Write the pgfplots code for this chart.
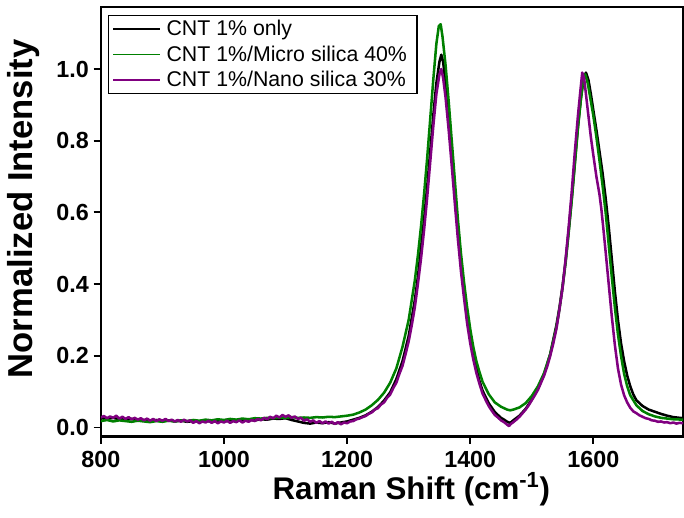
\documentclass[border=0pt]{standalone}
\usepackage{pgfplots}
\pgfplotsset{compat=1.18}
\usepackage{fontspec}
\setmainfont{Liberation Sans}
\definecolor{cgreen}{RGB}{0,128,0}
\definecolor{cmag}{RGB}{128,0,128}
\begin{document}
\begin{tikzpicture}
\begin{axis}[
  scale only axis,
  width=437.25pt, height=322.5pt,
  xmin=800, xmax=1746, ymin=-0.025, ymax=1.173,
  xtick={800,1000,1200,1400,1600},
  ytick={0,0.2,0.4,0.6,0.8,1.0},
  xtick pos=left, ytick pos=left,
  tick align=outside,
  major tick length=5.5pt,
  every tick/.style={line width=1.4pt, black},
  axis line style={line width=1.6pt},
  /pgf/number format/assume math mode=true,
  x tick label style={/pgf/number format/set thousands separator={}, font=\bfseries\fontsize{17.5}{17.5}\selectfont, yshift=-2pt},
  y tick label style={/pgf/number format/fixed, /pgf/number format/fixed zerofill, /pgf/number format/precision=1, font=\bfseries\fontsize{17.5}{17.5}\selectfont},
  xlabel={Raman Shift (cm\textsuperscript{-1})},
  ylabel={Normalized Intensity},
  every axis x label/.style={at={(axis description cs:0.533,-0.123)}, anchor=center, font=\bfseries\fontsize{23.5}{23.5}\selectfont},
  every axis y label/.style={at={(axis description cs:-0.132,0.53)}, anchor=center, rotate=90, font=\bfseries\fontsize{26}{26}\selectfont},
  legend style={at={(axis description cs:0.012,0.981)}, anchor=north west, draw=black, line width=1pt, font=\fontsize{16}{19.5}\selectfont, inner xsep=3pt, inner ysep=3.5pt, row sep=6pt, nodes={inner xsep=4.5pt, inner ysep=0pt}},
  legend cell align=left,
  legend image code/.code={\draw[#1, line width=1.1pt] (0pt,0pt) -- (35pt,0pt);},
  every axis plot/.append style={line width=1.9pt, line join=round},
]
\addplot[black, no markers] coordinates {
(800,.026)(810,.024)(820,.027)(830,.023)(840,.022)(850,.024)(860,.020)(870,.021)(880,.019)(890,.021)(900,.018)(910,.020)(920,.017)(930,.019)(940,.016)(950,.018)(960,.017)(970,.019)(980,.016)(990,.018)(1000,.019)(1010,.017)(1020,.020)(1030,.019)(1040,.021)(1050,.020)(1060,.023)(1070,.022)(1080,.025)(1090,.024)(1100,.026)(1110,.021)(1120,.017)(1130,.013)(1140,.011)(1150,.014)(1160,.012)(1170,.015)(1180,.011)(1190,.014)(1200,.017)(1210,.022)(1220,.027)(1230,.034)(1240,.044)(1250,.057)(1260,.075)(1270,.098)(1280,.135)(1290,.185)(1300,.255)(1310,.355)(1315,.42)(1320,.50)(1325,.58)(1330,.67)(1335,.77)(1340,.87)(1345,.96)(1350,1.02)(1353,1.04)(1356,1.02)(1360,.96)(1365,.87)(1370,.77)(1375,.66)(1380,.56)(1385,.465)(1390,.385)(1395,.315)(1400,.255)(1405,.205)(1410,.165)(1415,.13)(1420,.103)(1430,.068)(1440,.043)(1450,.027)(1455,.022)(1460,.016)(1465,.013)(1470,.02)(1480,.033)(1490,.052)(1500,.078)(1510,.108)(1520,.148)(1530,.205)(1540,.285)(1545,.335)(1550,.395)(1555,.465)(1560,.55)(1565,.64)(1570,.74)(1575,.84)(1580,.92)(1584,.97)(1588,.99)(1592,.97)(1596,.93)(1600,.885)(1605,.83)(1610,.77)(1615,.71)(1620,.64)(1625,.56)(1630,.47)(1635,.38)(1640,.30)(1645,.235)(1650,.185)(1655,.145)(1660,.115)(1665,.092)(1670,.076)(1680,.06)(1690,.05)(1700,.044)(1710,.038)(1720,.033)(1730,.029)(1746,.026)
};
\addlegendentry{CNT 1\% only}
\addplot[cgreen, no markers] coordinates {
(800,.018)(810,.021)(820,.017)(830,.020)(840,.018)(850,.016)(860,.019)(870,.017)(880,.015)(890,.018)(900,.016)(910,.019)(920,.017)(930,.020)(940,.018)(950,.021)(960,.019)(970,.022)(980,.020)(990,.023)(1000,.021)(1010,.024)(1020,.022)(1030,.025)(1040,.023)(1050,.026)(1060,.025)(1070,.027)(1080,.026)(1090,.028)(1100,.027)(1110,.029)(1120,.027)(1130,.028)(1140,.027)(1150,.029)(1160,.028)(1170,.030)(1180,.029)(1190,.031)(1200,.033)(1210,.036)(1220,.042)(1230,.05)(1240,.062)(1250,.077)(1260,.097)(1270,.125)(1280,.165)(1290,.225)(1300,.30)(1310,.41)(1315,.48)(1320,.56)(1325,.65)(1330,.75)(1335,.86)(1340,.97)(1345,1.07)(1349,1.12)(1352,1.125)(1355,1.09)(1360,1.01)(1365,.91)(1370,.80)(1375,.69)(1380,.58)(1385,.485)(1390,.405)(1395,.335)(1400,.275)(1405,.225)(1410,.185)(1415,.155)(1420,.128)(1430,.093)(1440,.07)(1450,.058)(1460,.05)(1465,.048)(1470,.05)(1480,.056)(1490,.068)(1500,.088)(1510,.115)(1520,.152)(1530,.205)(1540,.28)(1545,.33)(1550,.39)(1555,.46)(1560,.545)(1565,.635)(1570,.735)(1575,.835)(1580,.92)(1584,.975)(1587,.985)(1591,.96)(1595,.92)(1600,.87)(1605,.81)(1610,.745)(1615,.675)(1620,.60)(1625,.51)(1630,.42)(1635,.335)(1640,.26)(1645,.20)(1650,.15)(1655,.115)(1660,.09)(1670,.062)(1680,.046)(1690,.037)(1700,.031)(1710,.027)(1720,.025)(1730,.023)(1746,.022)
};
\addlegendentry{CNT 1\%/Micro silica 40\%}
\addplot[cmag, no markers] coordinates {
(800,.028)(805,.032)(810,.026)(815,.031)(820,.027)(825,.033)(830,.025)(835,.030)(840,.024)(845,.029)(850,.023)(855,.027)(860,.022)(865,.026)(870,.020)(875,.025)(880,.019)(885,.024)(890,.018)(895,.023)(900,.019)(905,.024)(910,.018)(915,.022)(920,.017)(925,.021)(930,.016)(935,.022)(940,.017)(945,.020)(950,.013)(955,.018)(960,.012)(965,.017)(970,.014)(975,.019)(980,.013)(985,.018)(990,.012)(995,.017)(1000,.014)(1005,.019)(1010,.013)(1015,.018)(1020,.015)(1025,.020)(1030,.014)(1035,.019)(1040,.016)(1045,.021)(1050,.018)(1055,.024)(1060,.020)(1065,.027)(1070,.023)(1075,.030)(1080,.026)(1085,.033)(1090,.028)(1095,.035)(1100,.030)(1105,.034)(1110,.027)(1115,.031)(1120,.024)(1125,.027)(1130,.019)(1135,.023)(1140,.016)(1145,.020)(1150,.013)(1155,.018)(1160,.012)(1165,.017)(1170,.011)(1175,.016)(1180,.010)(1185,.015)(1190,.009)(1195,.014)(1200,.012)(1205,.017)(1210,.018)(1215,.023)(1220,.025)(1225,.029)(1230,.032)(1235,.038)(1240,.042)(1245,.05)(1250,.054)(1255,.064)(1260,.07)(1265,.083)(1270,.092)(1275,.11)(1280,.125)(1285,.15)(1290,.172)(1295,.205)(1300,.24)(1305,.285)(1310,.335)(1315,.40)(1320,.47)(1325,.55)(1330,.64)(1335,.74)(1340,.84)(1345,.93)(1350,.985)(1353,1.0)(1356,.975)(1360,.92)(1365,.83)(1370,.73)(1375,.625)(1380,.525)(1385,.435)(1390,.36)(1395,.29)(1400,.235)(1405,.19)(1410,.152)(1415,.122)(1420,.095)(1425,.077)(1430,.06)(1435,.047)(1440,.035)(1445,.028)(1450,.02)(1455,.015)(1460,.008)(1463,.004)(1466,.01)(1470,.015)(1475,.022)(1480,.03)(1485,.04)(1490,.05)(1495,.062)(1500,.076)(1505,.09)(1510,.105)(1515,.125)(1520,.145)(1525,.17)(1530,.20)(1535,.235)(1540,.275)(1545,.33)(1550,.39)(1555,.47)(1560,.56)(1565,.66)(1570,.77)(1575,.87)(1579,.94)(1582,.99)(1585,.975)(1588,.93)(1592,.87)(1596,.81)(1600,.76)(1605,.70)(1610,.65)(1613,.61)(1616,.56)(1620,.49)(1625,.40)(1630,.31)(1635,.23)(1640,.165)(1645,.12)(1650,.09)(1655,.07)(1660,.055)(1665,.045)(1670,.04)(1675,.034)(1680,.03)(1685,.026)(1690,.024)(1695,.02)(1700,.019)(1705,.016)(1710,.017)(1715,.014)(1720,.015)(1725,.012)(1730,.014)(1735,.011)(1740,.013)(1746,.012)
};
\addlegendentry{CNT 1\%/Nano silica 30\%}
\end{axis}
\pgfresetboundingbox
\path ([xshift=-75.75pt,yshift=-60.75pt]current axis.south west) rectangle ([xshift=0.6pt,yshift=5.25pt]current axis.north east);
\end{tikzpicture}
\end{document}
